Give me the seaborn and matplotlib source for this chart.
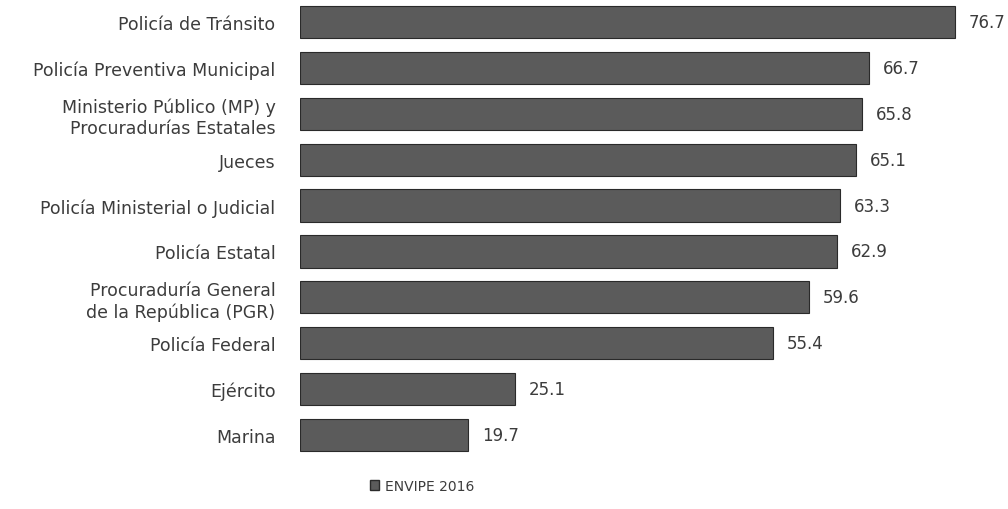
import matplotlib
matplotlib.use("Agg")
import matplotlib.pyplot as plt
import seaborn as sns
import pandas as pd
from matplotlib.patches import Patch

# Confianza en autoridades (%), ENVIPE 2016
autoridades = [
    "Policía de Tránsito",
    "Policía Preventiva Municipal",
    "Ministerio Público (MP) y\nProcuradurías Estatales",
    "Jueces",
    "Policía Ministerial o Judicial",
    "Policía Estatal",
    "Procuraduría General\nde la República (PGR)",
    "Policía Federal",
    "Ejército",
    "Marina",
]
porcentajes = [76.7, 66.7, 65.8, 65.1, 63.3, 62.9, 59.6, 55.4, 25.1, 19.7]
serie = "ENVIPE 2016"

df = pd.DataFrame({"autoridad": autoridades, "porcentaje": porcentajes})

sns.set_theme(style="white")
plt.rcParams["font.family"] = ["DejaVu Sans"]

bar_color = "#5b5b5b"
text_color = "#3c3c3c"

fig = plt.figure(figsize=(10.08, 5.10), dpi=100)
ax = fig.add_axes([0.298, 0.10, 0.694, 0.90])

sns.barplot(data=df, x="porcentaje", y="autoridad", orient="h",
            color=bar_color, width=0.70, edgecolor="#2a2a2a",
            linewidth=0.8, saturation=1, ax=ax)

for cont in ax.containers:
    ax.bar_label(cont, labels=[f"{v:.1f}" for v in porcentajes],
                 padding=10, fontsize=12, color=text_color)

ax.set_xlim(0, 82)
ax.set_ylim(9.5, -0.5)
ax.set_xlabel("")
ax.set_ylabel("")
ax.set_xticks([])
ax.tick_params(axis="y", length=0, pad=18, labelsize=12.5, labelcolor=text_color)
for s in ax.spines.values():
    s.set_visible(False)

fig.legend(handles=[Patch(facecolor=bar_color, edgecolor="#2a2a2a", label=serie)],
           loc="center", bbox_to_anchor=(422 / 1008, 1 - 487 / 510),
           frameon=False, fontsize=10, handlelength=0.7, handleheight=0.7,
           handletextpad=0.4, labelcolor=text_color)

fig.savefig("out.png", dpi=100, facecolor="white")
